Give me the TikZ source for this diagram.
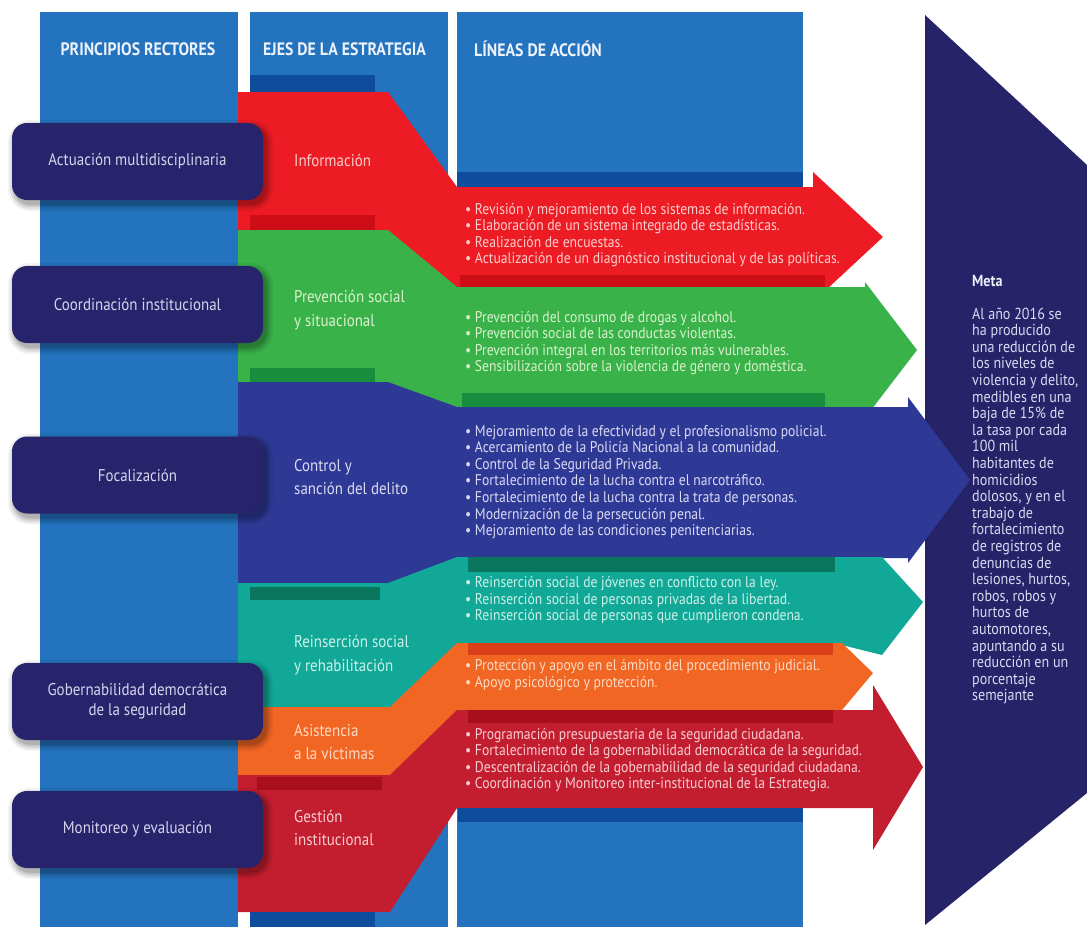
\documentclass[tikz,border=0pt]{standalone}
\usepackage{fontspec}
\setmainfont{PT Sans}[FakeStretch=0.88]
\definecolor{colblue}{RGB}{35,115,190}
\definecolor{bandblue}{RGB}{14,76,156}
\definecolor{navy}{RGB}{40,36,107}
\definecolor{metanavy}{RGB}{38,35,104}
\definecolor{cred}{RGB}{237,28,36}
\definecolor{cgreen}{RGB}{57,178,74}
\definecolor{cblue}{RGB}{46,57,150}
\definecolor{cteal}{RGB}{18,168,152}
\definecolor{corange}{RGB}{242,102,36}
\definecolor{ccrimson}{RGB}{195,30,48}
\definecolor{dred}{RGB}{205,14,22}
\definecolor{dgreen}{RGB}{22,142,62}
\definecolor{dteal}{RGB}{10,118,94}
\definecolor{dorange}{RGB}{218,62,24}
\definecolor{dcrimson}{RGB}{168,14,30}
\definecolor{redtxt}{RGB}{252,205,205}
\definecolor{greentxt}{RGB}{218,242,205}
\definecolor{bluetxt}{RGB}{218,218,242}
\definecolor{tealtxt}{RGB}{205,242,232}
\definecolor{orangetxt}{RGB}{253,218,195}
\definecolor{crimsontxt}{RGB}{248,205,210}
\definecolor{boxtxt}{RGB}{215,212,238}
\definecolor{hdrtxt}{RGB}{236,241,250}
\begin{document}
\begin{tikzpicture}[x=1pt,y=-1pt,
  hdr/.style={inner sep=0, text=hdrtxt, font=\fontsize{18}{20}\selectfont\bfseries},
  pbox/.style={rounded corners=15, fill=navy, text=boxtxt, minimum width=251, minimum height=77,
    inner sep=0, align=center, font=\fontsize{17}{20}\selectfont},
  lab/.style={anchor=west, inner sep=0, align=left, font=\fontsize{17}{23.5}\selectfont},
  bul/.style={anchor=west, inner sep=0, align=left, font=\fontsize{15.5}{16.6}\selectfont},
  meta/.style={anchor=west, inner sep=0, align=left, text=bluetxt, font=\fontsize{16}{16.6}\selectfont}]
\useasboundingbox (0,0) rectangle (1087,927);
\fill[white] (0,0) rectangle (1087,927);
% columns
\fill[colblue] (40,12) rectangle (238,927);
\fill[colblue] (250,12) rectangle (448,927);
\fill[colblue] (457,12) rectangle (803,927);
% meta panel
\fill[metanavy] (925,15) -- (1087,165) -- (1087,793) -- (925,925) -- cycle;
% top bands
\fill[bandblue] (250,75) rectangle (375,92);
\fill[bandblue] (457,172) rectangle (803,187);
% ribbons
\fill[cred] (238,92) -- (388,92) -- (457,187) -- (813,187) -- (813,172) -- (883,237) -- (813,302)
  -- (813,295) -- (457,295) -- (388,240) -- (238,240) -- cycle;
\fill[cgreen] (238,230) -- (388,230) -- (457,287) -- (865,287) -- (865,282) -- (917,350) -- (865,418)
  -- (865,415) -- (457,415) -- (388,390) -- (238,390) -- cycle;
\fill[cblue] (238,382) -- (388,382) -- (457,407) -- (908,407) -- (908,397) -- (970,480) -- (908,563)
  -- (908,558) -- (457,560) -- (388,590) -- (238,590) -- cycle;
\fill[cteal] (238,583) -- (388,583) -- (457,557) -- (882,557) -- (923,602) -- (882,655)
  -- (842,645) -- (457,645) -- (390,712) -- (238,712) -- cycle;
\fill[corange] (238,707) -- (390,707) -- (457,643) -- (842,643) -- (873,673) -- (842,710)
  -- (457,712) -- (390,780) -- (238,780) -- cycle;
\fill[ccrimson] (238,775) -- (390,775) -- (457,710) -- (873,710) -- (873,685) -- (923,767) -- (873,850)
  -- (873,808) -- (457,808) -- (390,912) -- (238,912) -- cycle;
% fold bands, column 2
\fill[dred] (250,215) rectangle (375,230);
\fill[dgreen] (250,368) rectangle (375,382);
\fill[dteal] (250,587) rectangle (380,600);
\fill[dcrimson] (257,777) rectangle (382,790);
\fill[bandblue] (250,912) rectangle (375,927);
% fold bands, column 3
\fill[dred] (460,275) rectangle (825,287);
\fill[dgreen] (462,393) rectangle (825,407);
\fill[dteal] (468,557) rectangle (835,572);
\fill[dorange] (468,643) rectangle (833,655);
\fill[dcrimson] (468,710) rectangle (833,723);
\fill[bandblue] (458,808) rectangle (803,822);
% box shadows
\foreach \cy in {161.5,304.5,475,701.5,829.5} {
  \foreach \g/\o in {7/0.05,5/0.07,3/0.09,1/0.12}
    \fill[black, opacity=\o, rounded corners=15+\g] (12-\g+3, \cy-38.5-\g+4) rectangle (263+\g+3, \cy+38.5+\g+4);
}
% headers
\node[hdr] (h1) at (138,49) {PRINCIPIOS RECTORES};
\node[hdr, anchor=west] (h2) at (263,49) {EJES DE LA ESTRATEGIA};
\node[hdr, anchor=west] (h3) at (474,49) {LÍNEAS DE ACCIÓN};
% principles
\node[pbox] (p1) at (137.5,161.5) {Actuación multidisciplinaria};
\node[pbox] (p2) at (137.5,304.5) {Coordinación institucional};
\node[pbox] (p3) at (137.5,475) {Focalización};
\node[pbox] (p4) at (137.5,701.5) {Gobernabilidad democrática\\de la seguridad};
\node[pbox] (p5) at (137.5,829.5) {Monitoreo y evaluación};
% axes
\node[lab, text=redtxt] (e1) at (294,160) {Información};
\node[lab, text=greentxt] (e2) at (294,310) {Prevención social\\y situacional};
\node[lab, text=bluetxt] (e3) at (294,477) {Control y\\sanción del delito};
\node[lab, text=tealtxt] (e4) at (294,655) {Reinserción social\\y rehabilitación};
\node[lab, text=orangetxt] (e5) at (294,742) {Asistencia\\a la víctimas};
\node[lab, text=crimsontxt] (e6) at (294,828) {Gestión\\institucional};
% action lines
\node[bul, text=redtxt] (l1) at (465,235) {\textbullet\ Revisión y mejoramiento de los sistemas de información.\\
\textbullet\ Elaboración de un sistema integrado de estadísticas.\\
\textbullet\ Realización de encuestas.\\
\textbullet\ Actualización de un diagnóstico institucional y de las políticas.};
\node[bul, text=greentxt] (l2) at (465,343) {\textbullet\ Prevención del consumo de drogas y alcohol.\\
\textbullet\ Prevención social de las conductas violentas.\\
\textbullet\ Prevención integral en los territorios más vulnerables.\\
\textbullet\ Sensibilización sobre la violencia de género y doméstica.};
\node[bul, text=bluetxt] (l3) at (465,482) {\textbullet\ Mejoramiento de la efectividad y el profesionalismo policial.\\
\textbullet\ Acercamiento de la Policía Nacional a la comunidad.\\
\textbullet\ Control de la Seguridad Privada.\\
\textbullet\ Fortalecimiento de la lucha contra el narcotráfico.\\
\textbullet\ Fortalecimiento de la lucha contra la trata de personas.\\
\textbullet\ Modernización de la persecución penal.\\
\textbullet\ Mejoramiento de las condiciones penitenciarias.};
\node[bul, text=tealtxt] (l4) at (465,600) {\textbullet\ Reinserción social de jóvenes en conflicto con la ley.\\
\textbullet\ Reinserción social de personas privadas de la libertad.\\
\textbullet\ Reinserción social de personas que cumplieron condena.};
\node[bul, text=orangetxt] (l5) at (465,675) {\textbullet\ Protección y apoyo en el ámbito del procedimiento judicial.\\
\textbullet\ Apoyo psicológico y protección.};
\node[bul, text=crimsontxt] (l6) at (465,760) {\textbullet\ Programación presupuestaria de la seguridad ciudadana.\\
\textbullet\ Fortalecimiento de la gobernabilidad democrática de la seguridad.\\
\textbullet\ Descentralización de la gobernabilidad de la seguridad ciudadana.\\
\textbullet\ Coordinación y Monitoreo inter-institucional de la Estrategia.};
% goal
\node[meta, font=\fontsize{16}{18}\selectfont\bfseries, text=hdrtxt] (mt) at (972,281) {Meta};
\node[meta] (mb) at (972,506) {Al año 2016 se\\ha producido\\una reducción de\\los niveles de\\violencia y delito,\\medibles en una\\baja de 15\% de\\la tasa por cada\\100 mil\\habitantes de\\homicidios\\dolosos, y en el\\trabajo de\\fortalecimiento\\de registros de\\denuncias de\\lesiones, hurtos,\\robos, robos y\\hurtos de\\automotores,\\apuntando a su\\reducción en un\\porcentaje\\semejante};
\end{tikzpicture}
\end{document}
